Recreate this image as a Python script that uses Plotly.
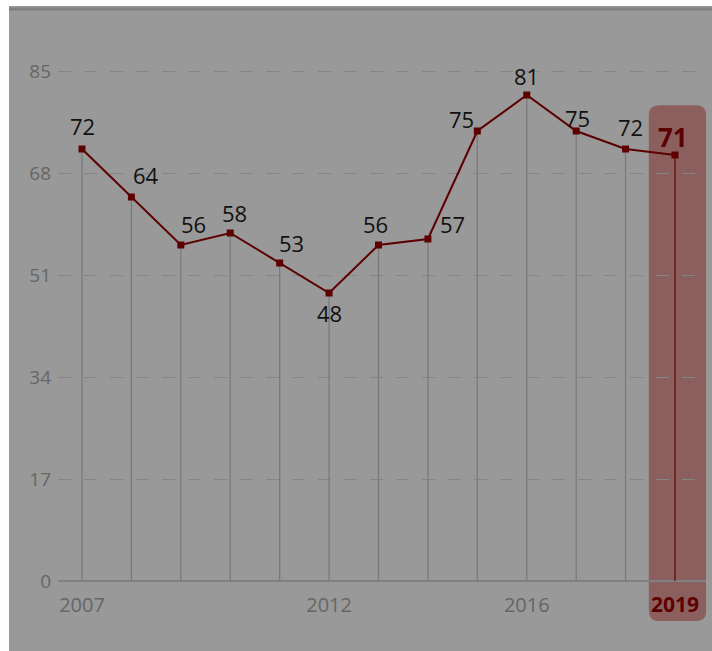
import plotly.graph_objects as go

years = list(range(2007, 2020))
values = [72, 64, 56, 58, 53, 48, 56, 57, 75, 81, 75, 72, 71]
y_ticks = [0, 17, 34, 51, 68, 85]
x_ticks = [2007, 2012, 2016, 2019]

# label offsets (pixels) relative to each point
label_dx = [0, 15, 13, 4, 12, 0, -3, 25, -16, 0, 1, 5, -2]
label_dy = [23, 22, 21, 20, 20, -20, 21, 15, 12, 19, 13, 22, 18]

W, H = 712, 651
ML, MR, MT, MB = 58, 6, 40, 30
PW, PH = W - ML - MR, H - MT - MB
X_RANGE = [2007 - 24 / 49.42, 2019 + 31 / 49.42]
Y_RANGE = [-40 / 6, 541 / 6]

def px_to_paper_x(px):
    return (px - ML) / PW

def px_to_paper_y(py):
    return (H - MB - py) / PH

DARK_RED = "#5c0000"
PANEL = "#999999"

fig = go.Figure()

# vertical drop lines from each point down to zero (last one highlighted)
vx, vy = [], []
for yr, v in zip(years[:-1], values[:-1]):
    vx += [yr, yr, None]
    vy += [0, v, None]
fig.add_trace(go.Scatter(x=vx, y=vy, mode="lines",
                         line=dict(color="#7a7a7a", width=1.3),
                         hoverinfo="skip", showlegend=False))
fig.add_trace(go.Scatter(x=[years[-1], years[-1]], y=[0, values[-1]], mode="lines",
                         line=dict(color="#6a0a0a", width=1.3),
                         hoverinfo="skip", showlegend=False))

# main series
fig.add_trace(go.Scatter(x=years, y=values, mode="lines+markers",
                         line=dict(color=DARK_RED, width=2),
                         marker=dict(symbol="square", size=7, color=DARK_RED),
                         showlegend=False))

annotations = []
for i, (yr, v) in enumerate(zip(years, values)):
    last = i == len(years) - 1
    annotations.append(dict(
        x=yr, y=v, xref="x", yref="y", text=f"<b>{v}</b>" if last else str(v),
        showarrow=False, xshift=label_dx[i], yshift=label_dy[i],
        font=dict(family="Open Sans", size=26 if last else 22,
                  color=DARK_RED if last else "#111111"),
    ))

# rounded highlight band behind 2019
hx0, hx1 = years[-1] - 0.53, years[-1] + 0.63
hy0, hy1 = Y_RANGE[0], 79.3
rx = 10 / (PW / (X_RANGE[1] - X_RANGE[0]))
ry = 10 / (PH / (Y_RANGE[1] - Y_RANGE[0]))
band_path = (
    f"M {hx0 + rx},{hy0} L {hx1 - rx},{hy0} Q {hx1},{hy0} {hx1},{hy0 + ry} "
    f"L {hx1},{hy1 - ry} Q {hx1},{hy1} {hx1 - rx},{hy1} "
    f"L {hx0 + rx},{hy1} Q {hx0},{hy1} {hx0},{hy1 - ry} "
    f"L {hx0},{hy0 + ry} Q {hx0},{hy0} {hx0 + rx},{hy0} Z"
)

shapes = [
    dict(type="path", path=band_path, xref="x", yref="y", layer="below",
         fillcolor="#8c5f5f", line=dict(width=0)),
    # white page edges around the grey panel
    dict(type="rect", xref="paper", yref="paper",
         x0=px_to_paper_x(0), x1=px_to_paper_x(9), y0=px_to_paper_y(H), y1=px_to_paper_y(0),
         fillcolor="white", line=dict(width=0), layer="below"),
    dict(type="rect", xref="paper", yref="paper",
         x0=px_to_paper_x(0), x1=px_to_paper_x(W), y0=px_to_paper_y(6), y1=px_to_paper_y(0),
         fillcolor="white", line=dict(width=0), layer="below"),
    dict(type="line", xref="paper", yref="paper",
         x0=px_to_paper_x(9), x1=px_to_paper_x(W), y0=px_to_paper_y(9), y1=px_to_paper_y(9),
         line=dict(color="#808080", width=3), layer="below"),
]

fig.update_layout(
    width=W, height=H,
    margin=dict(l=ML, r=MR, t=MT, b=MB),
    paper_bgcolor=PANEL, plot_bgcolor="rgba(0,0,0,0)",
    font=dict(family="Open Sans", color="#666666"),
    annotations=annotations, shapes=shapes,
    xaxis=dict(range=X_RANGE, tickvals=x_ticks,
               ticktext=["2007", "2012", "2016",
                         f"<span style='color:{DARK_RED};font-size:21px'><b>2019</b></span>"],
               ticklabelposition="inside", ticklabelstandoff=2,
               showgrid=False, zeroline=False, showline=False, ticks="",
               tickfont=dict(size=20, color="#666666"), fixedrange=True),
    yaxis=dict(range=Y_RANGE, tickvals=y_ticks, showgrid=True,
               gridcolor="#858585", griddash="13px,13px", gridwidth=1,
               zeroline=True, zerolinecolor="#808080", zerolinewidth=1.5,
               ticks="", ticklabelstandoff=6,
               tickfont=dict(size=19, color="#666666"), fixedrange=True),
)

fig.write_html("out.html")
